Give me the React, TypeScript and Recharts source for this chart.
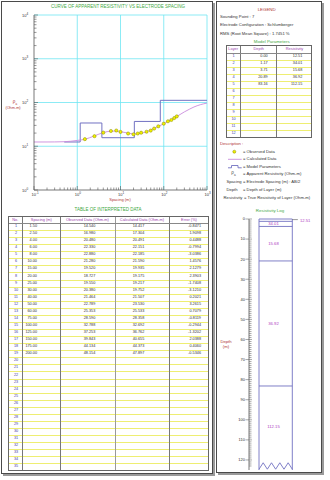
import React from 'react';
import { ComposedChart, Line, Scatter, XAxis, YAxis, ReferenceLine } from 'recharts';

// sounding point 7, schlumberger - interpreted data
const SPACING = [1.5, 2.5, 4, 6, 8, 10, 15, 20, 25, 30, 40, 50, 60, 75, 100, 125, 150, 175, 200];
const OBSERVED = [14.54, 16.98, 20.48, 22.33, 22.88, 21.28, 19.52, 18.727, 19.55, 20.38, 21.464, 22.789, 25.353, 28.59, 32.788, 37.253, 39.843, 44.134, 48.154];
const CALCULATED = [14.417, 17.304, 20.491, 22.151, 22.185, 21.59, 19.935, 19.175, 19.217, 19.752, 21.507, 23.53, 25.533, 28.358, 32.692, 36.762, 40.655, 44.373, 47.897];
const ERROR_PCT = [-0.8471, 1.9098, 0.4488, -0.7994, -3.0386, 1.4576, 2.1279, 2.3903, -1.7408, -3.121, 0.2021, 3.2615, 0.7079, -0.8119, -0.2944, -1.3202, 2.0388, 0.406, -0.5346];

const CALC_LEFT_X = [0.1, 0.2, 0.3, 0.5, 0.7, 1];
const CALC_LEFT_Y = [12.51, 12.52, 12.55, 12.7, 13.0, 13.6];
const CALC_RIGHT_X = [300, 400, 500, 700, 1000];
const CALC_RIGHT_Y = [61, 71, 79, 89, 97];

// model parameters
const LAYER_DEPTH = [0.0, 1.17, 3.71, 20.89, 83.16];
const LAYER_RES = [12.51, 34.01, 15.68, 36.92, 112.15];
const MODEL_FROM = 0.5;
const MODEL_TO = 1000;

const X_DECADES = [0.1, 1, 10, 100, 1000];
const Y_DECADES = [1, 10, 100, 1000, 10000];
const DEPTH_MAX = 125;

const FONT = '"Liberation Sans", Arial, sans-serif';
const CYAN = '#6fe6f2';
const MODEL_BLUE = '#7272c2';
const CALC_PURPLE = '#c98bdc';
const RED = '#b03434';
const GREEN = '#3fa83f';
const HEAD_PURPLE = '#9b3fae';
const ROW_YELLOW = '#eeee72';

const isDecade = (v: number) => Math.abs(Math.log10(v) - Math.round(Math.log10(v))) < 1e-6;
const withMinors = (decades: number[]) =>
  decades.slice(0, -1).flatMap(d => [1, 2, 3, 4, 5, 6, 7, 8, 9].map(m => d * m)).concat(decades[decades.length - 1]);

const X_TICKS = withMinors(X_DECADES);
const Y_TICKS = withMinors(Y_DECADES);
const DEPTH_TICKS = Array.from({ length: 124 }, (_, i) => i);

// log box geometry, as fractions of the log plot width
const BOX_L = 0.141;
const BOX_R = 0.61;
const BOX_MID = 0.345;
const OUT_LABEL = 0.718;

function T({ x, y, a = 'start', s = 4.2, c = '#333', children }: any) {
  const tx = a === 'middle' ? '-50%' : a === 'end' ? '-100%' : '0';
  return (
    <div style={{
      position: 'absolute', left: x, top: y, transform: `translate(${tx},-50%)`,
      fontSize: s, lineHeight: 1, color: c, whiteSpace: 'nowrap',
    }}>
      {children}
    </div>
  );
}

function XTick(props: any) {
  const { x, y, payload } = props;
  const v = payload.value;
  const ay = y - 2;
  const major = isDecade(v);
  return (
    <g>
      <line x1={x} x2={x} y1={ay} y2={ay - (major ? 4 : 2.5)} stroke="#555" strokeWidth={0.6} />
      {major && (
        <text x={x - 2.5} y={ay + 5.5} fontSize={4} fill="#333" fontFamily={FONT}>
          10<tspan dy={-1.8} fontSize={3}>{Math.round(Math.log10(v))}</tspan>
        </text>
      )}
    </g>
  );
}

function YTick(props: any) {
  const { x, y, payload } = props;
  const v = payload.value;
  const ax = x + 2;
  const major = isDecade(v);
  return (
    <g>
      <line x1={ax} x2={ax + (major ? 4 : 2.5)} y1={y} y2={y} stroke="#555" strokeWidth={0.6} />
      {major && (
        <text x={ax - 12} y={y + 1.5} fontSize={4} fill="#333" fontFamily={FONT}>
          10<tspan dy={-1.8} fontSize={3}>{Math.round(Math.log10(v))}</tspan>
        </text>
      )}
    </g>
  );
}

function DepthTick(props: any) {
  const { x, y, payload } = props;
  const v = payload.value;
  const ax = x + 2;
  const major = v % 10 === 0;
  return (
    <g>
      <line x1={major ? ax - 3.5 : ax} x2={ax + (major ? 3 : 2.5)} y1={y} y2={y} stroke="#555" strokeWidth={0.5} />
      {major && (
        <text x={ax - 4} y={y + 1.4} textAnchor="end" fontSize={4} fill="#333" fontFamily={FONT}>{v}</text>
      )}
    </g>
  );
}

function ResistivityCurve() {
  const calcData = [
    ...CALC_LEFT_X.map((x, i) => ({ x, y: CALC_LEFT_Y[i] })),
    ...SPACING.map((x, i) => ({ x, y: CALCULATED[i] })),
    ...CALC_RIGHT_X.map((x, i) => ({ x, y: CALC_RIGHT_Y[i] })),
  ];
  const obsData = SPACING.map((x, i) => ({ x, y: OBSERVED[i] }));
  const modelData = [
    { x: MODEL_FROM, y: LAYER_RES[0] },
    ...LAYER_DEPTH.slice(1).map((d, i) => ({ x: d, y: LAYER_RES[i + 1] })),
    { x: MODEL_TO, y: LAYER_RES[LAYER_RES.length - 1] },
  ];

  return (
    <ComposedChart width={212} height={205} margin={{ top: 15, right: 5, bottom: 5, left: 2 }}>
      <XAxis
        dataKey="x" type="number" scale="log" domain={[0.1, 1000]} allowDataOverflow
        ticks={X_TICKS} interval={0} tickSize={0} tickMargin={2} height={10}
        tick={(p: any) => <XTick {...p} />} axisLine={{ stroke: '#555', strokeWidth: 0.8 }}
      />
      <YAxis
        dataKey="y" type="number" scale="log" domain={[1, 10000]} allowDataOverflow
        ticks={Y_TICKS} interval={0} tickSize={0} tickMargin={2} width={32}
        tick={(p: any) => <YTick {...p} />} axisLine={{ stroke: '#555', strokeWidth: 0.8 }}
      />
      {X_DECADES.slice(1).map(v => <ReferenceLine key={'gx' + v} x={v} stroke={CYAN} strokeWidth={0.8} />)}
      {Y_DECADES.slice(1).map(v => <ReferenceLine key={'gy' + v} y={v} stroke={CYAN} strokeWidth={0.8} />)}
      <Line data={modelData} dataKey="y" type="stepAfter" stroke={MODEL_BLUE} strokeWidth={1}
        dot={false} activeDot={false} isAnimationActive={false} />
      <Line data={calcData} dataKey="y" type="monotone" stroke={CALC_PURPLE} strokeWidth={0.9}
        dot={false} activeDot={false} isAnimationActive={false} />
      <Scatter data={obsData} dataKey="y" isAnimationActive={false}
        shape={(p: any) => <circle cx={p.cx} cy={p.cy} r={1.6} fill="#f0f000" stroke="#8a8a00" strokeWidth={0.5} />} />
    </ComposedChart>
  );
}

function ResistivityLog() {
  const labels = LAYER_RES.map((r, i) => {
    const top = LAYER_DEPTH[i];
    const bottom = i + 1 < LAYER_DEPTH.length ? LAYER_DEPTH[i + 1] : DEPTH_MAX - 1;
    return i === 0
      ? { x: OUT_LABEL, y: 0.5, label: r.toFixed(2), out: true }
      : { x: BOX_MID, y: (top + bottom) / 2, label: r.toFixed(2), out: false };
  });
  // zigzag break at the bottom of the log
  const zig = Array.from({ length: 9 }, (_, i) => ({
    x: BOX_L + (BOX_R - BOX_L) * (i / 8),
    y: i % 2 === 0 ? DEPTH_MAX - 0.4 : DEPTH_MAX - 3.6,
  }));

  return (
    <ComposedChart width={104} height={258} margin={{ top: 5, right: 0, bottom: 2, left: 0 }}>
      <XAxis dataKey="x" type="number" domain={[0, 1]} hide height={0} />
      <YAxis
        dataKey="y" type="number" domain={[0, DEPTH_MAX]} reversed allowDataOverflow
        ticks={DEPTH_TICKS} interval={0} tickSize={0} tickMargin={2} width={33}
        tick={(p: any) => <DepthTick {...p} />} axisLine={{ stroke: '#555', strokeWidth: 0.8 }}
      />
      <ReferenceLine x={BOX_L} stroke={MODEL_BLUE} strokeWidth={0.9} />
      <ReferenceLine x={BOX_R} stroke={MODEL_BLUE} strokeWidth={0.9} />
      {LAYER_DEPTH.map(d => (
        <ReferenceLine key={'ld' + d} segment={[{ x: BOX_L, y: d }, { x: BOX_R, y: d }]} stroke={MODEL_BLUE} strokeWidth={0.9} />
      ))}
      <ReferenceLine segment={[{ x: BOX_R, y: 0.3 }, { x: OUT_LABEL - 0.03, y: 0.3 }]} stroke="#555" strokeWidth={0.6} />
      <Line data={zig} dataKey="y" type="linear" stroke={MODEL_BLUE} strokeWidth={0.9}
        dot={false} activeDot={false} isAnimationActive={false} />
      <Scatter data={labels} dataKey="y" isAnimationActive={false}
        shape={(p: any) => (
          <text x={p.cx} y={p.cy + 1.5} textAnchor={p.payload.out ? 'start' : 'middle'}
            fontSize={4.2} fill="#b03cbf" fontFamily={FONT}>
            {p.payload.label}
          </text>
        )} />
    </ComposedChart>
  );
}

const L_COLS = [8, 22.7, 60, 115, 169, 209];
const L_HEAD_TOP = 215.5;
const L_HEAD_H = 8;
const L_ROW_H = 7.07;
const L_ROWS = 35;

const R_COLS = [225.7, 240.7, 276.7, 312.3];
const R_HEAD_TOP = 45;
const R_HEAD_H = 8;
const R_ROW_H = 7.05;
const R_ROWS = 12;

function Frame({ x, y, w, h }: any) {
  return (
    <div style={{
      position: 'absolute', left: x, top: y, width: w, height: h, boxSizing: 'border-box',
      border: '1px solid #4a4a4a', boxShadow: '2px 2px 0 #9a9a9a', background: '#fff',
    }} />
  );
}

function Grid({ cols, top, headH, rowH, rows, thick }: any) {
  const bottom = top + headH + rowH * rows;
  const els: any[] = [];
  for (let i = 1; i < rows; i++) {
    els.push(<div key={'r' + i} style={{
      position: 'absolute', left: cols[0], width: cols[cols.length - 1] - cols[0],
      top: top + headH + rowH * i - 0.5, height: 1, background: ROW_YELLOW,
    }} />);
  }
  cols.slice(1, -1).forEach((c: number, i: number) => {
    els.push(<div key={'c' + i} style={{
      position: 'absolute', left: c - 0.5, top, width: thick === i ? 1.6 : 1, height: bottom - top,
      background: thick === i ? '#999' : '#777',
    }} />);
  });
  els.push(<div key="hb" style={{
    position: 'absolute', left: cols[0], width: cols[cols.length - 1] - cols[0], top: top + headH - 0.5,
    height: 1, background: '#888',
  }} />);
  els.push(<div key="box" style={{
    position: 'absolute', left: cols[0], top, width: cols[cols.length - 1] - cols[0], height: bottom - top,
    boxSizing: 'border-box', border: '1px solid #666',
  }} />);
  return <>{els}</>;
}

export default function App() {
  const lRowY = (i: number) => L_HEAD_TOP + L_HEAD_H + L_ROW_H * (i + 0.5);
  const rRowY = (i: number) => R_HEAD_TOP + R_HEAD_H + R_ROW_H * (i + 0.5);
  const lHeadY = L_HEAD_TOP + L_HEAD_H / 2;
  const rHeadY = R_HEAD_TOP + R_HEAD_H / 2;
  const mid = (cols: number[], i: number) => (cols[i] + cols[i + 1]) / 2;

  return (
    <div style={{ position: 'relative', width: 330, height: 480, background: '#fff', overflow: 'hidden', fontFamily: FONT }}>
      <style>{'body{margin:0}'}</style>
      <Frame x={1} y={0.5} w={212} h={473} />
      <Frame x={216} y={1} w={106} h={472} />

      {/* apparent resistivity curve */}
      <div style={{ position: 'absolute', left: 0, top: 0 }}>
        <ResistivityCurve />
      </div>
      <T x={118} y={7} a="middle" s={4.5} c={GREEN}>CURVE OF APPARENT RESISTIVITY VS ELECTRODE SPACING</T>
      <T x={15} y={103} a="middle" s={4.6} c={RED}>ρ<sub style={{ fontSize: 3 }}>a</sub></T>
      <T x={13} y={108.5} a="middle" s={3.8} c={RED}>(Ohm-m)</T>
      <T x={120} y={200} a="middle" s={4} c={RED}>Spacing (m)</T>

      {/* table of interpreted data */}
      <T x={108} y={210} a="middle" s={4.5} c={GREEN}>TABLE OF INTERPRETED DATA</T>
      <Grid cols={L_COLS} top={L_HEAD_TOP} headH={L_HEAD_H} rowH={L_ROW_H} rows={L_ROWS} thick={2} />
      {['No.', 'Spacing (m)', 'Observed Data (Ohm-m)', 'Calculated Data (Ohm-m)', 'Error (%)'].map((h, i) => (
        <T key={h} x={mid(L_COLS, i)} y={lHeadY} a="middle" s={3.9} c={HEAD_PURPLE}>{h}</T>
      ))}
      {Array.from({ length: L_ROWS }, (_, i) => (
        <T key={'n' + i} x={16} y={lRowY(i)} a="middle" s={3.8} c="#4040a8">{i + 1}</T>
      ))}
      {SPACING.map((v, i) => (
        <React.Fragment key={'d' + i}>
          <T x={37} y={lRowY(i)} a="end" s={3.8}>{v.toFixed(2)}</T>
          <T x={95.3} y={lRowY(i)} a="end" s={3.8}>{OBSERVED[i].toFixed(3)}</T>
          <T x={144.3} y={lRowY(i)} a="end" s={3.8}>{CALCULATED[i].toFixed(3)}</T>
          <T x={201} y={lRowY(i)} a="end" s={3.8}>{ERROR_PCT[i].toFixed(4)}</T>
        </React.Fragment>
      ))}

      {/* legend */}
      <T x={266.7} y={10} a="middle" s={4.4} c={RED}>LEGEND</T>
      <T x={220} y={16.5}>Sounding Point : 7</T>
      <T x={220} y={25.3}>Electrode Configuration : Schlumberger</T>
      <T x={220} y={34}>RMS (Root Mean Square) : 1.7451 %</T>
      <T x={271.7} y={41.7} a="middle" s={4.4} c={GREEN}>Model Parameters</T>
      <Grid cols={R_COLS} top={R_HEAD_TOP} headH={R_HEAD_H} rowH={R_ROW_H} rows={R_ROWS} thick={-1} />
      {['Layer', 'Depth', 'Resistivity'].map((h, i) => (
        <T key={h} x={mid(R_COLS, i)} y={rHeadY} a="middle" s={3.9} c={HEAD_PURPLE}>{h}</T>
      ))}
      {Array.from({ length: R_ROWS }, (_, i) => (
        <T key={'l' + i} x={233.5} y={rRowY(i)} a="middle" s={3.8} c="#4040a8">{i + 1}</T>
      ))}
      {LAYER_DEPTH.map((d, i) => (
        <React.Fragment key={'m' + i}>
          <T x={267.7} y={rRowY(i)} a="end" s={3.8}>{d.toFixed(2)}</T>
          <T x={302.3} y={rRowY(i)} a="end" s={3.8}>{LAYER_RES[i].toFixed(2)}</T>
        </React.Fragment>
      ))}

      <T x={220} y={144} c={RED}>Description :</T>
      <svg width={330} height={480} style={{ position: 'absolute', left: 0, top: 0, pointerEvents: 'none' }}>
        <circle cx={234.3} cy={151.7} r={1.5} fill="#f0f000" stroke="#8a8a00" strokeWidth={0.5} />
        <line x1={228} x2={241.7} y1={159.3} y2={159.3} stroke={CALC_PURPLE} strokeWidth={0.9} />
        <polyline points="228,167.8 231.5,167.8 231.5,165.5 238,165.5 238,167.8 241.7,167.8"
          fill="none" stroke={MODEL_BLUE} strokeWidth={0.9} />
      </svg>
      <T x={243} y={151.7}>= Observed Data</T>
      <T x={243} y={159.3}>= Calculated Data</T>
      <T x={243} y={166.7}>= Model Parameters</T>
      <T x={233.5} y={174} a="middle" s={4.6} c="#444">ρ<sub style={{ fontSize: 3 }}>a</sub></T>
      <T x={243} y={174}>= Apparent Resistivity (Ohm-m)</T>
      <T x={234} y={181.7} a="middle">Spacing</T>
      <T x={243} y={181.7}>= Electrode Spacing (m) : AB/2</T>
      <T x={232} y={190} a="middle">Depth</T>
      <T x={243} y={190}>= Depth of Layer (m)</T>
      <T x={233} y={198.3} a="middle">Resistivity</T>
      <T x={244} y={198.3}>= True Resistivity of Layer (Ohm-m)</T>

      {/* resistivity log */}
      <T x={270} y={211} a="middle" s={4.4} c={GREEN}>Resistivity Log</T>
      <div style={{ position: 'absolute', left: 216, top: 214 }}>
        <ResistivityLog />
      </div>
      <T x={226} y={341.7} a="middle" c={RED}>Depth</T>
      <T x={226} y={347.3} a="middle" c={RED}>(m)</T>
    </div>
  );
}
